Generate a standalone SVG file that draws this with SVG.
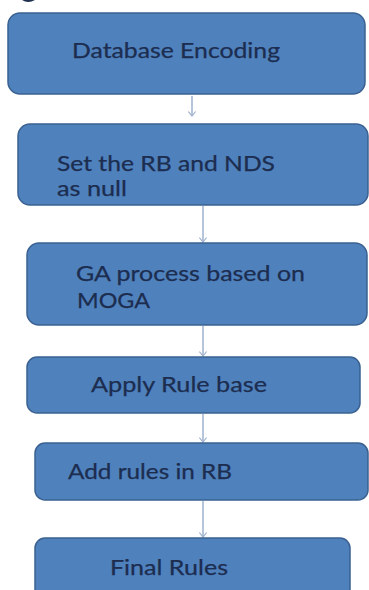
<svg xmlns="http://www.w3.org/2000/svg" width="369" height="590" viewBox="0 0 369 590">
<defs>
<style>
.box{fill:#4f81bd;stroke:#3a6190;stroke-width:1.5}
.t{font-family:Lato,"Open Sans","Liberation Sans",sans-serif;font-size:21px;fill:#1c2d4f;stroke:#1c2d4f;stroke-width:0.25}
.c{stroke:#9fb2cf;stroke-width:1.5;fill:none}
</style>
<marker id="ah" viewBox="0 0 10 10" refX="9" refY="5" markerWidth="9" markerHeight="9" markerUnits="userSpaceOnUse" orient="auto">
<path d="M4,1 L9,5 L4,9" fill="none" stroke="#9fb2cf" stroke-width="1.3"/>
</marker>
</defs>
<rect width="369" height="590" fill="#ffffff"/>
<path d="M22,0 Q28,4 35,0 Z" fill="#1f2f4f"/>
<g id="connectors">
<path class="c" d="M192,96 V116" marker-end="url(#ah)"/>
<path class="c" d="M203,206 V242" marker-end="url(#ah)"/>
<path class="c" d="M203,326 V356" marker-end="url(#ah)"/>
<path class="c" d="M203,414 V442" marker-end="url(#ah)"/>
<path class="c" d="M203,501 V537" marker-end="url(#ah)"/>
</g>
<g id="n1"><rect class="box" x="8" y="13" width="357" height="81" rx="12"/><text class="t" x="72" y="58" textLength="208" lengthAdjust="spacingAndGlyphs">Database Encoding</text></g>
<g id="n2"><rect class="box" x="18" y="124" width="350" height="81" rx="12"/><text class="t" x="57" y="171" textLength="218" lengthAdjust="spacingAndGlyphs">Set the RB and NDS</text><text class="t" x="57" y="196" textLength="70" lengthAdjust="spacingAndGlyphs">as null</text></g>
<g id="n3"><rect class="box" x="27" y="243" width="340" height="82" rx="12"/><text class="t" x="76" y="281" textLength="229" lengthAdjust="spacingAndGlyphs">GA process based on</text><text class="t" x="77" y="308" textLength="73" lengthAdjust="spacingAndGlyphs">MOGA</text></g>
<g id="n4"><rect class="box" x="27" y="357" width="333" height="56" rx="10"/><text class="t" x="91" y="392" textLength="176" lengthAdjust="spacingAndGlyphs">Apply Rule base</text></g>
<g id="n5"><rect class="box" x="35" y="443" width="333" height="57" rx="10"/><text class="t" x="68" y="479" textLength="164" lengthAdjust="spacingAndGlyphs">Add rules in RB</text></g>
<g id="n6"><rect class="box" x="35" y="538" width="315" height="62" rx="10"/><text class="t" x="110" y="575" textLength="118" lengthAdjust="spacingAndGlyphs">Final Rules</text></g>
</svg>
